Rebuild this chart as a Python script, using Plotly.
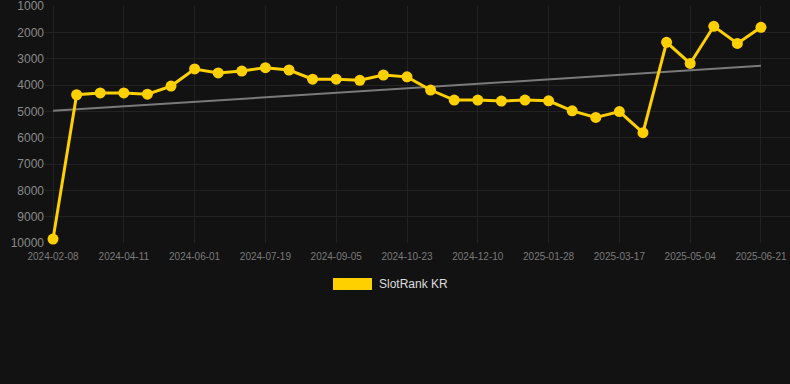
import plotly.graph_objects as go

dates = [
    "2024-02-08", "2024-03-10", "2024-03-26", "2024-04-11", "2024-04-28",
    "2024-05-15", "2024-06-01", "2024-06-17", "2024-07-03", "2024-07-19",
    "2024-08-04", "2024-08-20", "2024-09-05", "2024-09-21", "2024-10-07",
    "2024-10-23", "2024-11-08", "2024-11-24", "2024-12-10", "2024-12-26",
    "2025-01-12", "2025-01-28", "2025-02-13", "2025-03-01", "2025-03-17",
    "2025-04-02", "2025-04-18", "2025-05-04", "2025-05-20", "2025-06-05",
    "2025-06-21",
]
rank_kr = [
    9850, 4370, 4300, 4300, 4350,
    4040, 3390, 3540, 3470, 3340,
    3430, 3780, 3780, 3820, 3620,
    3690, 4190, 4570, 4570, 4610,
    4570, 4600, 4980, 5230, 5010,
    5810, 2380, 3180, 1770, 2420,
    1810,
]
trend_dates = ["2024-02-08", "2025-06-21"]
trend_values = [4980, 3270]
tick_labels = dates[::3]
y_ticks = [1000, 2000, 3000, 4000, 5000, 6000, 7000, 8000, 9000, 10000]
y_tick_text = ["1000", "2000", "3000", "4000", "5000", "6000", "7000", "8000", "9000", "10000"]
series_name = "SlotRank KR"

YELLOW = "#FFD000"
BG = "#121212"
GRID = "#222222"

fig = go.Figure()
fig.add_trace(go.Scatter(
    x=trend_dates, y=trend_values, mode="lines",
    line=dict(color="#7a7a7a", width=2), showlegend=False, hoverinfo="skip",
))
fig.add_trace(go.Scatter(
    x=dates, y=rank_kr, mode="lines+markers", name=series_name,
    line=dict(color=YELLOW, width=3),
    marker=dict(color=YELLOW, size=11),
    showlegend=False, cliponaxis=False,
))

# legend (manual, rectangle swatch)
L, W, T, H = 45, 745, 6, 237
B = 384 - T - H
fig.add_shape(type="rect", xref="paper", yref="paper",
              x0=(333 - L) / W, x1=(372 - L) / W,
              y0=(384 - 290 - B) / H, y1=(384 - 278 - B) / H,
              fillcolor=YELLOW, line=dict(width=0))
fig.add_annotation(text=series_name, xref="paper", yref="paper",
                   x=(377 - L) / W, y=(384 - 284 - B) / H,
                   xanchor="left", yanchor="middle", showarrow=False,
                   font=dict(size=12, color="#dddddd"))

fig.update_layout(
    width=790, height=384,
    margin=dict(l=L, r=0, t=T, b=B),
    paper_bgcolor=BG, plot_bgcolor=BG,
    font=dict(family="Liberation Sans, Arial, sans-serif"),
    showlegend=False,
    xaxis=dict(
        type="category", categoryorder="array", categoryarray=dates,
        tickmode="array", tickvals=tick_labels, ticktext=tick_labels,
        range=[-0.34, 31.23],
        showgrid=True, gridcolor=GRID, gridwidth=1,
        zeroline=False, showline=False,
        tickfont=dict(size=10, color="#7a7a7a"),
        ticklabelstandoff=6,
        ticklabeloverflow="allow",
    ),
    yaxis=dict(
        range=[10000, 999],
        tickmode="array", tickvals=y_ticks, ticktext=y_tick_text,
        showgrid=True, gridcolor=GRID, gridwidth=1,
        zeroline=False, showline=False,
        tickfont=dict(size=12, color="#8a8a8a"),
        ticklabeloverflow="allow",
    ),
)

fig.write_html(
    "out.html",
    config={"displayModeBar": False},
    post_script="document.body.style.margin='0';document.body.style.background='#121212';",
)
